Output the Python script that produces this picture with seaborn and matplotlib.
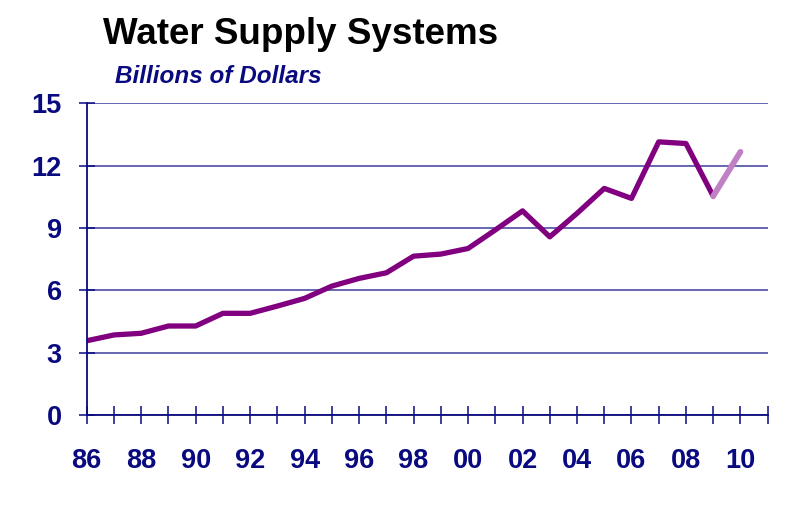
import pandas as pd
import matplotlib.pyplot as plt
import seaborn as sns

# billions of dollars
years = [1986, 1987, 1988, 1989, 1990, 1991, 1992, 1993, 1994, 1995, 1996, 1997,
         1998, 1999, 2000, 2001, 2002, 2003, 2004, 2005, 2006, 2007, 2008, 2009]
values = [3.57, 3.85, 3.93, 4.28, 4.28, 4.89, 4.89, 5.24, 5.61, 6.2, 6.57, 6.84,
          7.64, 7.74, 8.01, 8.9, 9.82, 8.57, 9.7, 10.9, 10.42, 13.14, 13.06, 10.53]
forecast_years = [2009, 2010]
forecast_values = [10.53, 12.66]

tick_years = list(range(1986, 2012))
tick_labels = [f"{y % 100:02d}" if y % 2 == 0 and y <= 2010 else "" for y in tick_years]
y_ticks = [0, 3, 6, 9, 12, 15]

navy = "#0a0a80"

sns.set_style("white")
plt.rcParams["font.family"] = ["Liberation Sans", "DejaVu Sans"]

df = pd.DataFrame({"year": years, "value": values})
fc = pd.DataFrame({"year": forecast_years, "value": forecast_values})

fig = plt.figure(figsize=(8.03, 5.32), dpi=100)
ax = fig.add_axes([0.108, 0.22, 0.848, 0.586])

ax.yaxis.grid(True, color="#5a5aaa", linewidth=1.3)
ax.set_axisbelow(True)

sns.lineplot(x="year", y="value", data=df, color="#800080", linewidth=3.8, ax=ax)
sns.lineplot(x="year", y="value", data=fc, color="#c080c4", linewidth=4.2, ax=ax)

ax.set_xlim(1986, 2011)
ax.set_ylim(0, 15)
ax.set_xticks(tick_years)
ax.set_xticklabels(tick_labels)
ax.set_yticks(y_ticks)
ax.set_xlabel("")
ax.set_ylabel("")

for side in ["top", "right"]:
    ax.spines[side].set_visible(False)
for side in ["left", "bottom"]:
    ax.spines[side].set_color(navy)
    ax.spines[side].set_linewidth(1.3)

ax.tick_params(axis="x", bottom=True, direction="inout", length=13, width=1.1,
               color=navy, labelcolor=navy, labelsize=19.5, pad=17)
ax.tick_params(axis="y", left=True, direction="inout", length=12, width=1.1,
               color=navy, labelcolor=navy, labelsize=19.5, pad=12)
for lbl in ax.get_xticklabels() + ax.get_yticklabels():
    lbl.set_fontweight("bold")

fig.text(0.128, 0.935, "Water Supply Systems", fontsize=26.5, fontweight="bold",
         color="black", ha="left", va="center")
fig.text(0.143, 0.857, "Billions of Dollars", fontsize=17.5, fontweight="bold",
         fontstyle="italic", color=navy, ha="left", va="center")

fig.savefig("out.png", dpi=100)
